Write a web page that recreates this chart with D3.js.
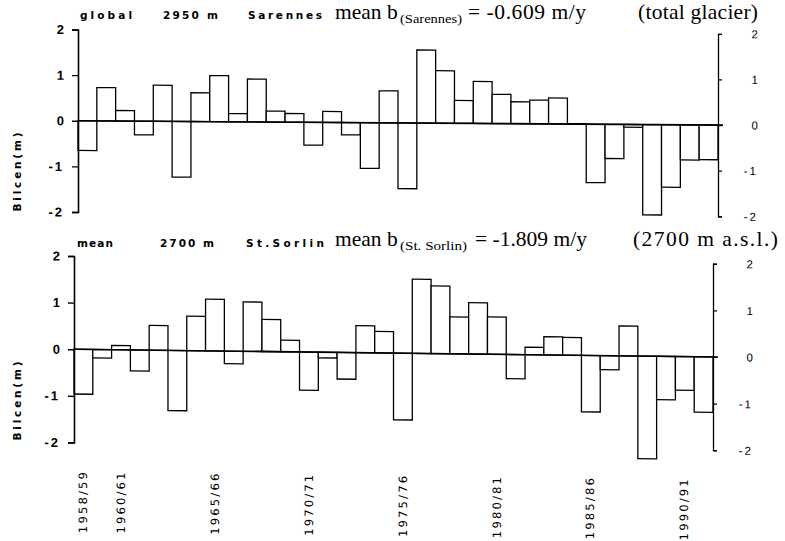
<!DOCTYPE html>
<html>
<head>
<meta charset="utf-8">
<script src="https://cdn.jsdelivr.net/npm/d3@7"></script>
<style>
  html, body { margin: 0; padding: 0; background: #fff; }
  svg { display: block; }
</style>
</head>
<body>
<svg id="chart" width="785" height="541"></svg>
<script>
// Hydrological years 1958/59 ... 1991/92
const seasons = [
  "1958/59","1959/60","1960/61","1961/62","1962/63","1963/64","1964/65","1965/66",
  "1966/67","1967/68","1968/69","1969/70","1970/71","1971/72","1972/73","1973/74",
  "1974/75","1975/76","1976/77","1977/78","1978/79","1979/80","1980/81","1981/82",
  "1982/83","1983/84","1984/85","1985/86","1986/87","1987/88","1988/89","1989/90",
  "1990/91","1991/92"
];
// Labelled seasons on the time axis
const seasonTicks = ["1958/59","1960/61","1965/66","1970/71","1975/76","1980/81","1985/86","1990/91"];

// Centred annual balance (m), Sarennes, global, 2950 m
const sarennes = [
  -0.65, 0.73, 0.23, -0.30, 0.79, -1.22, 0.63, 1.01, 0.18, 0.94, 0.24, 0.19,
  -0.50, 0.24, -0.27, -1.00, 0.70, -1.44, 1.60, 1.15, 0.50, 0.92, 0.64, 0.48,
  0.52, 0.57, 0.01, -1.28, -0.75, -0.06, -1.98, -1.37, -0.77, -0.76
];
// Centred annual balance (m), St. Sorlin, mean, 2700 m
const stSorlin = [
  -0.96, -0.18, 0.09, -0.45, 0.53, -1.29, 0.74, 1.11, -0.27, 1.06, 0.69, 0.25,
  -0.82, -0.12, -0.57, 0.58, 0.46, -1.43, 1.59, 1.45, 0.79, 1.10, 0.80, -0.52,
  0.16, 0.39, 0.38, -1.21, -0.30, 0.64, -2.20, -0.93, -0.72, -1.19
];
const yTicks = [-2, -1, 0, 1, 2];

const panels = [
  {
    values: sarennes, x0: 78, width: 640, yTop: 29.5, yBottom: 212, skew: 0.385,
    heads: [["global", 80, 52], ["2950 m", 163, 55], ["Sarennes", 248, 74]], headY: 19,
    mean: "mean b", sub: "(Sarennes)", eq: "= -0.609 m/y", note: "(total glacier)",
    titleY: 19, subX: 400, subW: 62, eqX: 468, eqW: 118, noteX: 638, noteW: 120,
    axisTitleY: 172, timeAxis: false
  },
  {
    values: stSorlin, x0: 74, width: 639, yTop: 256, yBottom: 442.5, skew: 0.69,
    heads: [["mean", 77, 36], ["2700 m", 160, 54], ["St.Sorlin", 246, 78]], headY: 247,
    mean: "mean b", sub: "(St. Sorlin)", eq: "= -1.809 m/y", note: "(2700 m a.s.l.)",
    titleY: 246, subX: 400, subW: 67, eqX: 475, eqW: 112, noteX: 633, noteW: 145,
    axisTitleY: 401, timeAxis: true
  }
];

const svg = d3.select("#chart");
const serif = "'Liberation Serif', 'Times New Roman', serif";

panels.forEach(p => {
  const x = d3.scaleBand().domain(seasons).range([0, p.width]).paddingInner(0).paddingOuter(0);
  const y = d3.scaleLinear().domain([-2, 2]).range([p.yBottom, p.yTop]);

  const g = svg.append("g")
    .attr("transform", `translate(${p.x0},0) skewY(${p.skew})`);

  // bars (outlined)
  g.selectAll("rect.bar")
    .data(p.values)
    .join("rect")
    .attr("class", "bar")
    .attr("x", (d, i) => x(seasons[i]))
    .attr("width", x.bandwidth())
    .attr("y", d => y(Math.max(0, d)))
    .attr("height", d => Math.abs(y(d) - y(0)))
    .attr("fill", "#fff")
    .attr("stroke", "#000")
    .attr("stroke-width", 1.3);

  // zero line
  g.append("line")
    .attr("x1", 0).attr("x2", p.width + 5)
    .attr("y1", y(0)).attr("y2", y(0))
    .attr("stroke", "#000").attr("stroke-width", 1.6);

  // left axis
  const left = g.append("g")
    .call(d3.axisLeft(y).tickValues(yTicks).tickSize(6).tickSizeOuter(6).tickPadding(8)
      .tickFormat(d => d < 0 ? "-" + Math.abs(d) : d));
  left.select(".domain").attr("stroke-width", 1.6);
  left.selectAll(".tick line").attr("stroke-width", 1.4);
  left.selectAll("text")
    .attr("font-family", "'Liberation Sans', Arial, sans-serif")
    .attr("font-size", 13).attr("font-weight", "bold")
    .attr("letter-spacing", d => d < 0 ? 2 : 0)
    .attr("fill", "#000");

  // right axis
  const right = g.append("g")
    .attr("transform", `translate(${p.width},0)`)
    .call(d3.axisRight(y).tickValues(yTicks).tickSize(4).tickSizeOuter(4).tickPadding(6)
      .tickFormat(d => d < 0 ? "-" + Math.abs(d) : d));
  right.select(".domain").attr("stroke-width", 1.3);
  right.selectAll(".tick line").attr("stroke-width", 1.2);
  right.selectAll("text")
    .attr("text-anchor", "end")
    .attr("x", 40)
    .attr("font-family", "'Liberation Sans', Arial, sans-serif")
    .attr("font-size", 11.5)
    .attr("letter-spacing", d => d < 0 ? 2 : 0)
    .attr("fill", "#000");

  // season labels under the lower panel
  if (p.timeAxis) {
    g.selectAll("text.season")
      .data(seasonTicks)
      .join("text")
      .attr("class", "season")
      .attr("transform", d => `translate(${x(d) + x.bandwidth() / 2 - 0.5},472) rotate(-90)`)
      .attr("text-anchor", "end")
      .attr("dy", "0.36em")
      .attr("font-family", "'DejaVu Sans', sans-serif")
      .attr("font-size", 11.5)
      .attr("textLength", 61)
      .attr("lengthAdjust", "spacing")
      .attr("fill", "#000")
      .text(d => d);
  }

  // small panel heading
  p.heads.forEach(([t, hx, hw]) => {
    svg.append("text")
      .attr("x", hx).attr("y", p.headY)
      .attr("font-family", "'DejaVu Sans', sans-serif")
      .attr("font-size", 10.5).attr("font-weight", "bold")
      .attr("textLength", hw).attr("lengthAdjust", "spacing")
      .attr("fill", "#000")
      .text(t);
  });

  // mean balance statement
  svg.append("text")
    .attr("x", 335).attr("y", p.titleY)
    .attr("font-family", serif).attr("font-size", 21.5).attr("fill", "#000")
    .text(p.mean);
  svg.append("text")
    .attr("x", p.subX).attr("y", p.titleY + 4)
    .attr("font-family", serif).attr("font-size", 12.5).attr("fill", "#000")
    .attr("textLength", p.subW).attr("lengthAdjust", "spacingAndGlyphs")
    .text(p.sub);
  svg.append("text")
    .attr("x", p.eqX).attr("y", p.titleY)
    .attr("font-family", serif).attr("font-size", 21.5).attr("fill", "#000")
    .attr("textLength", p.eqW).attr("lengthAdjust", "spacing")
    .text(p.eq);
  svg.append("text")
    .attr("x", p.noteX).attr("y", p.titleY)
    .attr("font-family", serif).attr("font-size", 21.5).attr("fill", "#000")
    .attr("textLength", p.noteW).attr("lengthAdjust", "spacing")
    .text(p.note);

  // vertical axis title
  svg.append("text")
    .attr("transform", `translate(17,${p.axisTitleY}) rotate(-90)`)
    .attr("text-anchor", "middle")
    .attr("dy", "0.36em")
    .attr("font-family", "'DejaVu Sans', sans-serif")
    .attr("font-size", 10.5).attr("font-weight", "bold")
    .attr("textLength", 79).attr("lengthAdjust", "spacing")
    .attr("fill", "#000")
    .text("Bilcen(m)");
});
</script>
</body>
</html>
